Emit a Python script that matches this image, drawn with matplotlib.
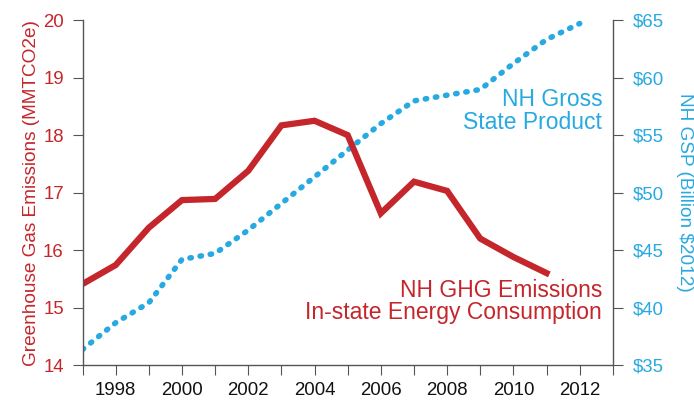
import matplotlib.pyplot as plt

years = list(range(1997, 2012))
ghg = [15.41, 15.74, 16.39, 16.87, 16.89, 17.38, 18.17, 18.25, 18.0,
       16.64, 17.19, 17.03, 16.2, 15.88, 15.6]

gsp_years = list(range(1997, 2013))
gsp = [36.36, 38.68, 40.42, 44.19, 44.71, 46.74, 49.06, 51.37, 53.7,
       56.0, 57.98, 58.48, 58.97, 61.23, 63.32, 64.71]

red = '#c4262b'
blue = '#27a9e1'
gray = '#555555'

plt.rcParams['font.family'] = ['Liberation Sans', 'DejaVu Sans']

fig = plt.figure(figsize=(6.94, 4.04), dpi=100)
ax = fig.add_axes([0.119, 0.0965, 0.764, 0.8535])
ax2 = ax.twinx()

# GSP (right axis)
ax2.plot(gsp_years, gsp, color=blue, linewidth=4, linestyle=(0, (0.25, 1.6)),
         dash_capstyle='round', solid_capstyle='round')
ax2.set_ylim(35, 65)
ax2.set_yticks(range(35, 70, 5))
ax2.set_yticklabels([f'${v}' for v in range(35, 70, 5)])
ax2.set_ylabel('NH GSP (Billion $2012)', color=blue, fontsize=13.7,
               rotation=-90, labelpad=21)

# GHG (left axis)
ax.plot(years, ghg, color=red, linewidth=4.5, solid_joinstyle='miter')
ax.set_zorder(ax2.get_zorder() + 1)
ax.patch.set_visible(False)
ax.set_ylim(14, 20)
ax.set_xlim(1997, 2013)
ax.set_yticks(range(14, 21))
ax.set_xticks(range(1997, 2014))
ax.set_xticklabels([str(y) if y % 2 == 0 and y <= 2012 else '' for y in range(1997, 2014)])
ax.set_ylabel('Greenhouse Gas Emissions (MMTCO2e)', color=red, fontsize=13.7,
              labelpad=2)

for a in (ax, ax2):
    a.spines['top'].set_visible(False)
    for s in ('left', 'right', 'bottom'):
        a.spines[s].set_color(gray)
        a.spines[s].set_linewidth(1)
    a.tick_params(direction='out', length=7.5, color=gray, labelsize=13.4, pad=6)

ax.tick_params(axis='y', labelcolor=red)
ax.tick_params(axis='x', labelcolor='#111111', length=7, pad=5)
ax2.tick_params(axis='y', labelcolor=blue, pad=7)
ax.spines['right'].set_visible(False)
ax2.spines['left'].set_visible(False)
ax2.spines['bottom'].set_visible(False)

ax.text(2012.68, 18.42, 'NH Gross\nState Product', color=blue, fontsize=16.5,
        ha='right', va='center', linespacing=0.95)
ax.text(2012.68, 15.11, 'NH GHG Emissions\nIn-state Energy Consumption', color=red,
        fontsize=16.5, ha='right', va='center', linespacing=0.95)

fig.savefig('out.png', dpi=100)
